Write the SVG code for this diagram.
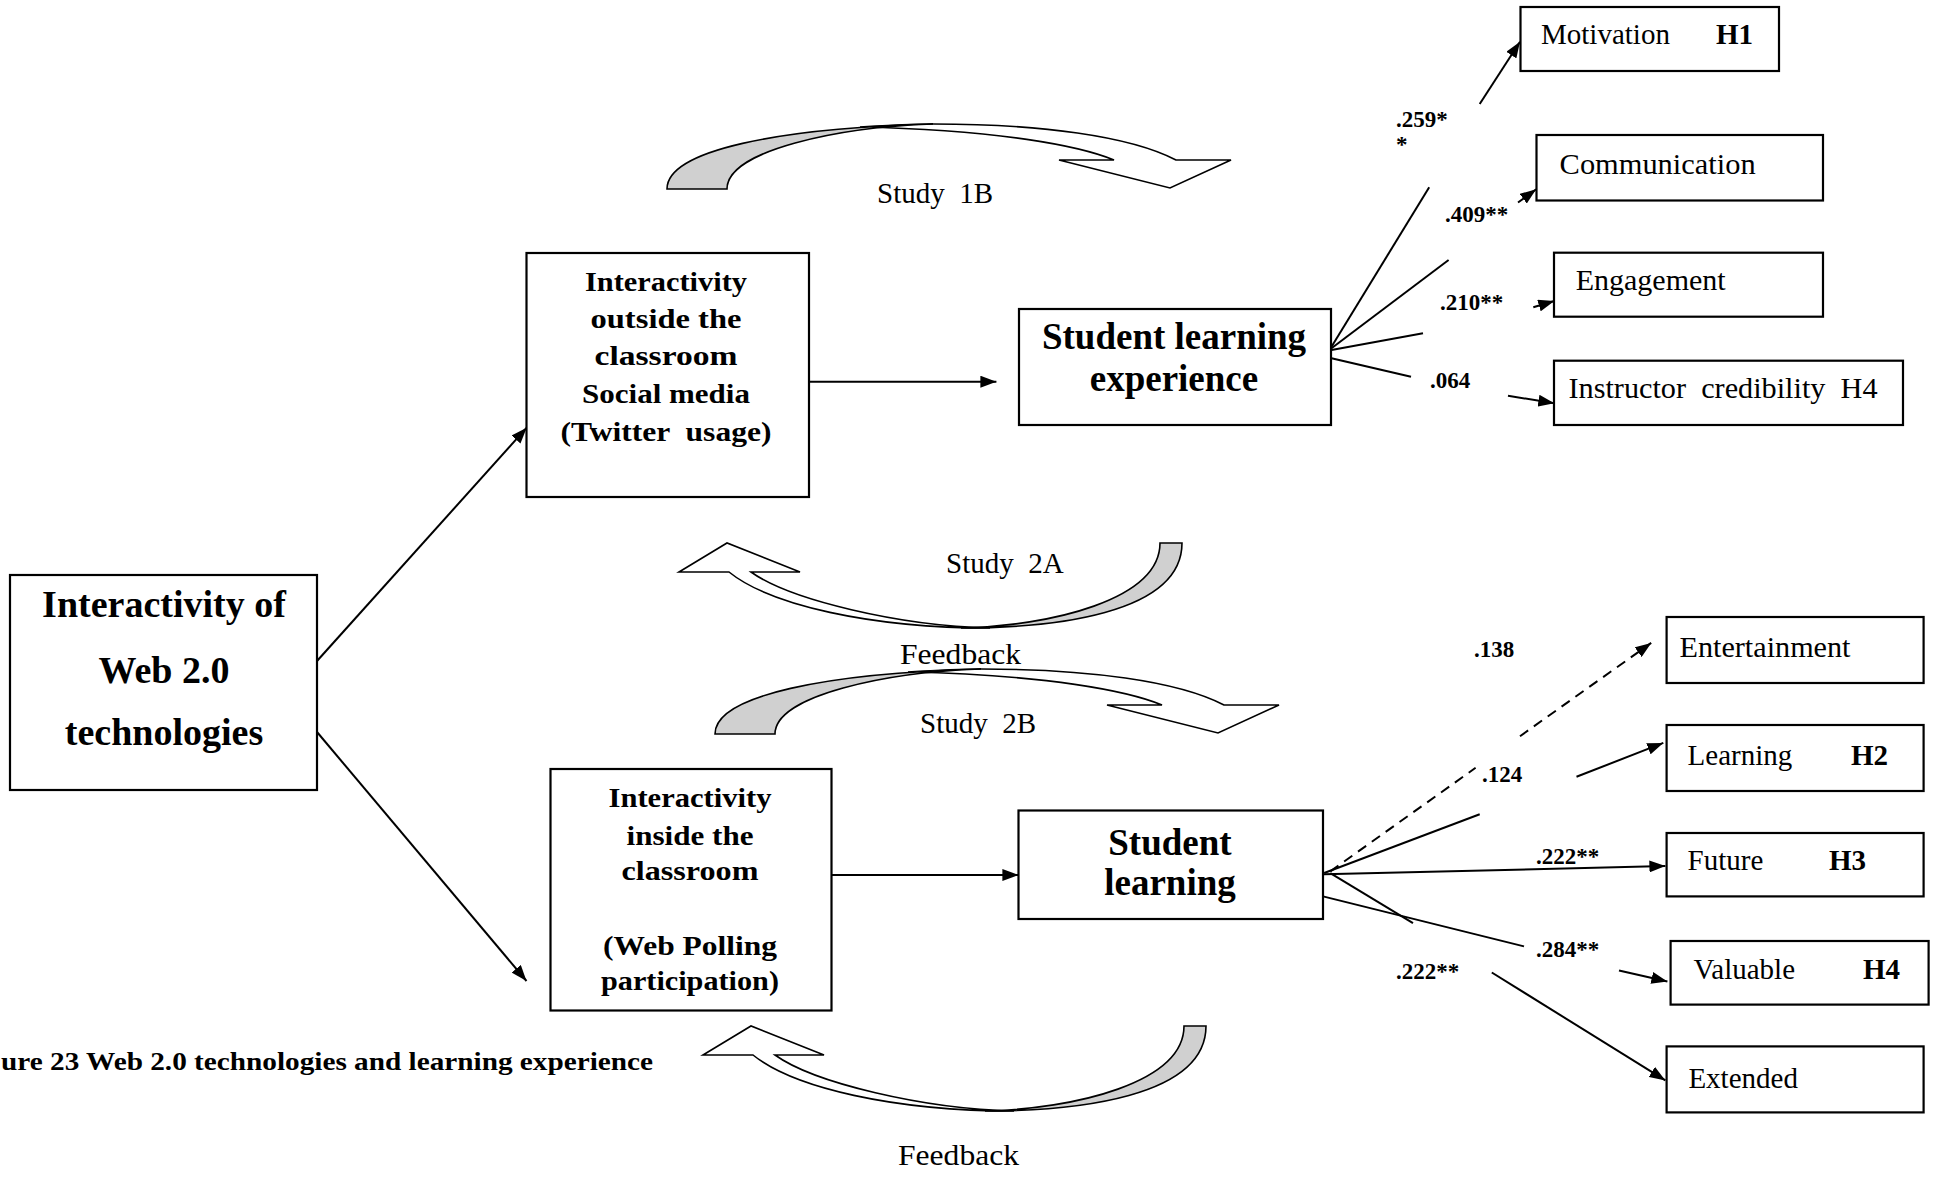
<svg xmlns="http://www.w3.org/2000/svg" width="1933" height="1179" viewBox="0 0 1933 1179">
  <style>
    .box{fill:#fff;stroke:#000;stroke-width:2.2}
    .t{font-family:"Liberation Serif","Times New Roman",serif;fill:#000}
    .hd{font-size:38px;font-weight:bold;text-anchor:middle}
    .md{font-size:28px;font-weight:bold;text-anchor:middle}
    .sl{font-size:37px;font-weight:bold;text-anchor:middle}
    .lb{font-size:29px}
    .hb{font-size:29px;font-weight:bold}
    .num{font-size:23px;font-weight:bold}
    .st{font-size:29px}
    .cap{font-size:26px;font-weight:bold}
    .ln{stroke:#000;stroke-width:2;fill:none}
    .arr{marker-end:url(#ah)}
    .dash{stroke-dasharray:10 7}
    .rib{stroke:#000;stroke-width:1.6;stroke-linejoin:miter}
    .back{fill:#d0d0d0}
    .front{fill:#fff}
  </style>
  <defs>
    <marker id="ah" markerUnits="userSpaceOnUse" markerWidth="17" markerHeight="12" refX="16" refY="6" orient="auto" viewBox="0 0 17 12">
      <path d="M0,0 L16,6 L0,12 Z" fill="#000"/>
    </marker>
    <!-- ribbon arrow arching over, head pointing down-right -->
    <g id="curveDown">
      <path class="rib front" d="M860,127 C900,124.5 920,124 933,124 C1040,124 1130,136 1176,160 L1231,160 L1170,188 L1059,160 L1114,160 C1080,146 1000,130 860,127 Z"/>
      <path class="rib back" d="M667,189 C667,150 780,128 933,124 C840,127 727,150 727,189 Z"/>
    </g>
    <!-- ribbon arrow dipping under, head pointing up-left -->
    <g id="curveUp">
      <path class="rib front" d="M729,572 C770,605 870,628 990,628 C900,626 790,600 751,572 L800,572 L727,543 L679,572 Z"/>
      <path class="rib back" d="M1160,543 L1182,543 C1182,615 1050,628 961,628 C1050,626 1160,600 1160,543 Z"/>
    </g>
  </defs>

  <rect width="1933" height="1179" fill="#fff"/>

  <!-- study / feedback ribbons -->
  <g id="ribbons">
    <use href="#curveDown"/>
    <use href="#curveUp"/>
    <use href="#curveDown" transform="translate(48,545)"/>
    <use href="#curveUp" transform="translate(24,483)"/>
    <text class="t st" x="877" y="203" xml:space="preserve">Study  1B</text>
    <text class="t st" x="946" y="573" xml:space="preserve">Study  2A</text>
    <text class="t st" x="900" y="664" textLength="121" lengthAdjust="spacingAndGlyphs">Feedback</text>
    <text class="t st" x="920" y="733" xml:space="preserve">Study  2B</text>
    <text class="t st" x="898" y="1165" textLength="121" lengthAdjust="spacingAndGlyphs">Feedback</text>
  </g>

  <!-- connectors -->
  <g id="connectors">
    <line class="ln arr" x1="317" y1="661" x2="526.7" y2="427.7"/>
    <line class="ln arr" x1="317" y1="732" x2="526.5" y2="981"/>
    <line class="ln arr" x1="809" y1="381.7" x2="996.4" y2="381.7" stroke-width="2.5"/>
    <line class="ln arr" x1="831" y1="875" x2="1018.4" y2="875" stroke-width="2.5"/>

    <!-- fan from Student learning experience -->
    <line class="ln" x1="1331.5" y1="346.7" x2="1429.2" y2="187.3"/>
    <line class="ln arr" x1="1479.7" y1="104" x2="1520" y2="41.7"/>
    <line class="ln" x1="1331.5" y1="348.3" x2="1448.6" y2="260"/>
    <line class="ln arr" x1="1518" y1="202.5" x2="1536.2" y2="189.3"/>
    <line class="ln" x1="1331.5" y1="350" x2="1423" y2="333.3"/>
    <line class="ln arr" x1="1533.3" y1="307.3" x2="1554.3" y2="301"/>
    <line class="ln" x1="1331.5" y1="358.3" x2="1411" y2="376.7"/>
    <line class="ln arr" x1="1508" y1="395.7" x2="1554.3" y2="403.3"/>

    <!-- fan from Student learning -->
    <line class="ln dash" x1="1330.3" y1="871.4" x2="1475.6" y2="767.8"/>
    <line class="ln dash arr" x1="1520" y1="736.2" x2="1651.2" y2="642.9"/>
    <line class="ln" x1="1324.2" y1="873" x2="1479.7" y2="814.3"/>
    <line class="ln arr" x1="1576.5" y1="776.8" x2="1663.3" y2="742.9"/>
    <line class="ln arr" x1="1324" y1="874.3" x2="1665.4" y2="866"/>
    <line class="ln" x1="1323" y1="896.4" x2="1524" y2="946.4"/>
    <line class="ln arr" x1="1619" y1="970.4" x2="1667.4" y2="981.4"/>
    <line class="ln" x1="1330.3" y1="873.2" x2="1413" y2="923.2"/>
    <line class="ln arr" x1="1491.8" y1="972.5" x2="1665.4" y2="1080.4"/>
  </g>

  <!-- path coefficients -->
  <g id="coefficients">
    <text class="t num" x="1396" y="127">.259*</text>
    <text class="t num" x="1396" y="152">*</text>
    <text class="t num" x="1445" y="222">.409**</text>
    <text class="t num" x="1440" y="310">.210**</text>
    <text class="t num" x="1430" y="388">.064</text>
    <text class="t num" x="1474" y="657">.138</text>
    <text class="t num" x="1482" y="782">.124</text>
    <text class="t num" x="1536" y="864">.222**</text>
    <text class="t num" x="1536" y="957">.284**</text>
    <text class="t num" x="1396" y="979">.222**</text>
  </g>

  <!-- nodes -->
  <g id="web20">
    <rect class="box" x="10" y="575" width="307" height="215"/>
    <text class="t hd" x="164" y="617">Interactivity of</text>
    <text class="t hd" x="164" y="683">Web 2.0</text>
    <text class="t hd" x="164" y="745">technologies</text>
  </g>

  <g id="outside">
    <rect class="box" x="526.5" y="253" width="282.5" height="244"/>
    <text class="t md" x="666" y="291" textLength="162" lengthAdjust="spacingAndGlyphs">Interactivity</text>
    <text class="t md" x="666" y="328" textLength="151" lengthAdjust="spacingAndGlyphs">outside the</text>
    <text class="t md" x="666" y="365" textLength="143" lengthAdjust="spacingAndGlyphs">classroom</text>
    <text class="t md" x="666" y="403" textLength="168" lengthAdjust="spacingAndGlyphs">Social media</text>
    <text class="t md" x="666" y="441" textLength="211" lengthAdjust="spacingAndGlyphs" xml:space="preserve">(Twitter  usage)</text>
  </g>

  <g id="sle">
    <rect class="box" x="1019" y="309" width="312" height="116"/>
    <text class="t sl" x="1174" y="349">Student learning</text>
    <text class="t sl" x="1174" y="391">experience</text>
  </g>

  <g id="inside">
    <rect class="box" x="550.5" y="769" width="281" height="241.5"/>
    <text class="t md" x="690" y="807" textLength="163" lengthAdjust="spacingAndGlyphs">Interactivity</text>
    <text class="t md" x="690" y="845" textLength="127" lengthAdjust="spacingAndGlyphs">inside the</text>
    <text class="t md" x="690" y="880" textLength="137" lengthAdjust="spacingAndGlyphs">classroom</text>
    <text class="t md" x="690" y="955" textLength="174" lengthAdjust="spacingAndGlyphs">(Web Polling</text>
    <text class="t md" x="690" y="990" textLength="178" lengthAdjust="spacingAndGlyphs">participation)</text>
  </g>

  <g id="sl">
    <rect class="box" x="1018.5" y="810.5" width="304.5" height="108.5"/>
    <text class="t sl" x="1170" y="855">Student</text>
    <text class="t sl" x="1170" y="895">learning</text>
  </g>

  <g id="motivation">
    <rect class="box" x="1520.5" y="7" width="258.5" height="64"/>
    <text class="t lb" x="1541" y="43.5">Motivation</text>
    <text class="t hb" x="1716" y="43.5">H1</text>
  </g>
  <g id="communication">
    <rect class="box" x="1536.5" y="135" width="286.5" height="65.5"/>
    <text class="t lb" x="1559.6" y="173.5" textLength="196" lengthAdjust="spacingAndGlyphs">Communication</text>
  </g>
  <g id="engagement">
    <rect class="box" x="1554" y="252.7" width="269" height="64"/>
    <text class="t lb" x="1575.7" y="290" textLength="150" lengthAdjust="spacingAndGlyphs">Engagement</text>
  </g>
  <g id="instructor">
    <rect class="box" x="1554" y="360.7" width="349" height="64.3"/>
    <text class="t lb" x="1568.5" y="398.3" textLength="309" lengthAdjust="spacingAndGlyphs" xml:space="preserve">Instructor  credibility  H4</text>
  </g>

  <g id="entertainment">
    <rect class="box" x="1666.6" y="617" width="257" height="66"/>
    <text class="t lb" x="1679.5" y="657" textLength="171" lengthAdjust="spacingAndGlyphs">Entertainment</text>
  </g>
  <g id="learning">
    <rect class="box" x="1666.6" y="725" width="257" height="66"/>
    <text class="t lb" x="1687.6" y="765">Learning</text>
    <text class="t hb" x="1851" y="765">H2</text>
  </g>
  <g id="future">
    <rect class="box" x="1666.6" y="833" width="257" height="63.4"/>
    <text class="t lb" x="1687.6" y="869.6">Future</text>
    <text class="t hb" x="1829" y="869.6">H3</text>
  </g>
  <g id="valuable">
    <rect class="box" x="1670.6" y="941" width="258" height="63.6"/>
    <text class="t lb" x="1693.6" y="978.6">Valuable</text>
    <text class="t hb" x="1863" y="978.6">H4</text>
  </g>
  <g id="extended">
    <rect class="box" x="1666.6" y="1046.4" width="257" height="66"/>
    <text class="t lb" x="1688.4" y="1087.5">Extended</text>
  </g>

  <!-- caption -->
  <text class="t cap" x="1" y="1070" textLength="652" lengthAdjust="spacingAndGlyphs">ure 23 Web 2.0 technologies and learning experience</text>
</svg>
